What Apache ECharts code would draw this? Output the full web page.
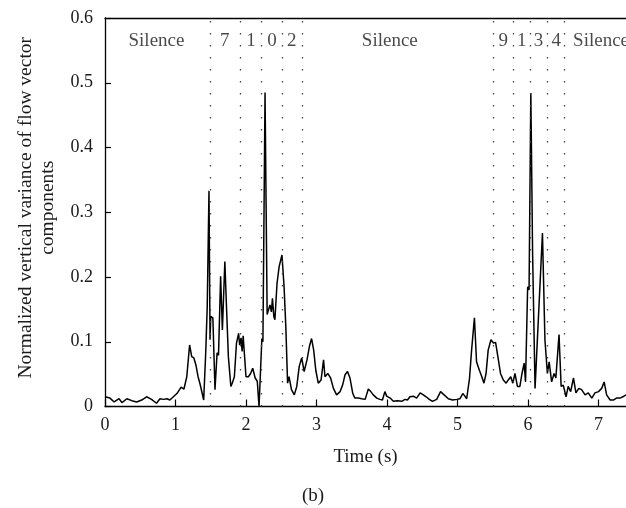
<!DOCTYPE html>
<html>
<head>
<meta charset="utf-8">
<script src="https://cdn.jsdelivr.net/npm/echarts@6/dist/echarts.min.js"></script>
<style>html,body{margin:0;padding:0;background:#fff}#c{width:626px;height:508px}</style>
</head>
<body>
<div id="c"></div>
<script>
// Time (s) of each sample
var timeSec = [0.00,0.07,0.13,0.20,0.24,0.31,0.38,0.45,0.52,0.59,0.66,0.73,0.78,0.83,0.88,0.92,0.97,1.02,1.08,1.12,1.16,1.20,1.23,1.26,1.29,1.32,1.35,1.37,1.40,1.43,1.45,1.475,1.49,1.50,1.53,1.56,1.59,1.61,1.64,1.665,1.70,1.725,1.75,1.785,1.805,1.835,1.865,1.895,1.91,1.93,1.945,1.96,1.975,2.00,2.035,2.065,2.095,2.13,2.16,2.185,2.21,2.225,2.24,2.27,2.30,2.325,2.34,2.36,2.375,2.395,2.41,2.44,2.47,2.51,2.54,2.565,2.59,2.61,2.645,2.685,2.72,2.755,2.79,2.825,2.865,2.90,2.93,2.96,2.99,3.025,3.065,3.10,3.12,3.16,3.20,3.24,3.285,3.335,3.37,3.405,3.44,3.475,3.515,3.545,3.595,3.64,3.69,3.735,3.77,3.805,3.855,3.90,3.935,3.97,3.995,4.045,4.09,4.145,4.21,4.255,4.29,4.325,4.375,4.42,4.47,4.515,4.555,4.60,4.645,4.705,4.76,4.81,4.87,4.93,4.99,5.035,5.075,5.105,5.13,5.17,5.20,5.24,5.27,5.31,5.345,5.375,5.405,5.435,5.475,5.51,5.54,5.58,5.61,5.65,5.69,5.72,5.755,5.785,5.815,5.85,5.885,5.915,5.945,5.965,5.995,6.015,6.04,6.065,6.10,6.125,6.16,6.205,6.24,6.275,6.30,6.335,6.37,6.395,6.44,6.47,6.50,6.54,6.57,6.605,6.645,6.68,6.72,6.76,6.81,6.855,6.905,6.95,7.00,7.045,7.08,7.115,7.165,7.21,7.255,7.305,7.345,7.39];
// Normalized vertical variance of flow vector components
var variance = [0.015,0.013,0.007,0.012,0.006,0.012,0.009,0.007,0.010,0.015,0.011,0.005,0.012,0.011,0.012,0.010,0.015,0.020,0.030,0.027,0.046,0.095,0.077,0.075,0.064,0.046,0.034,0.035,0.010,0.087,0.154,0.333,0.103,0.139,0.137,0.026,0.083,0.079,0.201,0.118,0.224,0.149,0.077,0.031,0.036,0.046,0.098,0.113,0.095,0.106,0.085,0.109,0.085,0.046,0.046,0.051,0.059,0.044,0.039,0.000,0.000,0.105,0.100,0.485,0.142,0.141,0.157,0.146,0.167,0.139,0.134,0.190,0.216,0.234,0.185,0.123,0.036,0.046,0.026,0.018,0.031,0.062,0.075,0.054,0.072,0.093,0.105,0.087,0.056,0.036,0.041,0.072,0.046,0.051,0.044,0.028,0.018,0.023,0.033,0.049,0.054,0.044,0.020,0.013,0.013,0.012,0.011,0.027,0.023,0.018,0.013,0.011,0.010,0.023,0.016,0.013,0.008,0.009,0.008,0.011,0.010,0.015,0.016,0.013,0.021,0.018,0.015,0.011,0.008,0.011,0.023,0.018,0.012,0.010,0.011,0.012,0.020,0.016,0.012,0.043,0.087,0.137,0.069,0.056,0.046,0.036,0.051,0.087,0.103,0.098,0.099,0.072,0.051,0.041,0.036,0.041,0.046,0.036,0.051,0.031,0.031,0.051,0.067,0.038,0.185,0.180,0.484,0.237,0.028,0.031,0.165,0.268,0.103,0.051,0.069,0.038,0.051,0.044,0.111,0.031,0.033,0.015,0.031,0.023,0.044,0.021,0.028,0.026,0.018,0.021,0.013,0.021,0.023,0.028,0.038,0.018,0.010,0.010,0.013,0.013,0.015,0.018];
// Segment boundaries (s)
var boundaries = [1.49,1.92,2.22,2.52,2.80,5.51,5.79,6.03,6.27,6.52];
// Segment labels and their time positions
var segLabels = ['Silence','7','1','0','2','Silence','9','1','3','4','Silence'];
var segLabelTime = [0.73,1.70,2.07,2.37,2.65,4.04,5.65,5.91,6.15,6.40,6.64];
var segLabelY = 0.565;
var xMax = 7.39;

var FONT = '"Liberation Serif","DejaVu Serif",serif';
var TXT = '#1a1a1a';

var lineData = timeSec.map(function(t,i){return [t, variance[i]];});
var labelData = segLabels.map(function(s,i){
  var item = {value:[segLabelTime[i], segLabelY], name:s};
  if (i === segLabels.length-1) item.label = {align:'left'};
  return item;
});

var chart = echarts.init(document.getElementById('c'), null, {renderer:'canvas'});
chart.setOption({
  animation:false,
  backgroundColor:'#fff',
  grid:{left:105, top:18, bottom:101.5, right:0, show:false},
  title:{text:'(b)', left:'center', top:482, textStyle:{fontFamily:FONT, fontSize:19, fontWeight:'normal', color:TXT}},
  xAxis:[{type:'value', min:0, max:xMax, interval:1,
    name:'Time (s)', nameLocation:'middle', nameGap:41,
    nameTextStyle:{fontFamily:FONT, fontSize:19, color:TXT},
    axisLine:{show:true, onZero:false, lineStyle:{color:'#000', width:1.3}},
    axisTick:{show:true, inside:true, length:7, lineStyle:{color:'#000', width:1.2}},
    axisLabel:{fontFamily:FONT, fontSize:18, color:TXT, margin:10, showMaxLabel:false,
      formatter:function(v){return Math.abs(v-Math.round(v))<1e-6 ? String(Math.round(v)) : '';}},
    splitLine:{show:false}},
   {type:'value', position:'top', min:0, max:xMax,
    axisLine:{show:true, onZero:false, lineStyle:{color:'#000', width:1.3}},
    axisTick:{show:false}, axisLabel:{show:false}, splitLine:{show:false}}],
  yAxis:{type:'value', min:0, max:0.6, interval:0.1,
    name:'Normalized vertical variance of flow vector\ncomponents', nameLocation:'middle', nameGap:46, nameRotate:90,
    nameTextStyle:{fontFamily:FONT, fontSize:19.5, color:TXT, lineHeight:22, padding:[0,0,0,9]},
    axisLine:{show:true, lineStyle:{color:'#000', width:1.3}},
    axisTick:{show:true, inside:true, length:6, lineStyle:{color:'#000', width:1.2}},
    axisLabel:{fontFamily:FONT, fontSize:18, color:TXT, margin:12, formatter:function(v){return String(Math.round(v*10)/10);}},
    splitLine:{show:false}},
  series:[
    {type:'line', data:lineData, showSymbol:false, symbol:'none', smooth:false,
      lineStyle:{color:'#000', width:1.5}, z:3,
      markLine:{silent:true, symbol:['none','none'], label:{show:false},
        lineStyle:{type:[1.5,10.5], color:'#444', width:1.3},
        data:boundaries.map(function(b){return {xAxis:b};})}},
    {type:'scatter', data:labelData, symbolSize:0, silent:true, z:4,
      label:{show:true, position:'inside', formatter:function(p){return p.name;},
        fontFamily:FONT, fontSize:19, color:TXT}}
  ]
});
</script>
</body>
</html>
